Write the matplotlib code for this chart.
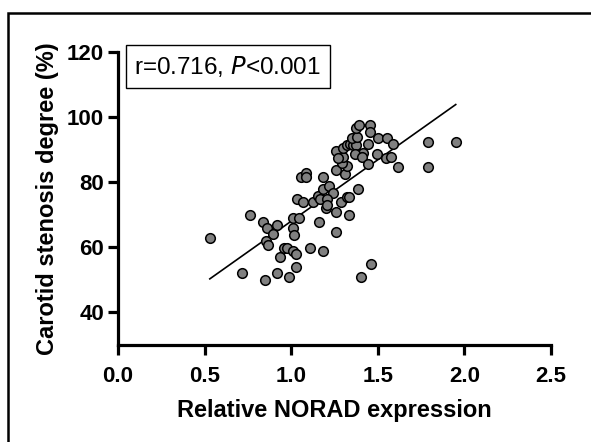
import numpy as np
import matplotlib
matplotlib.use("Agg")
import matplotlib.pyplot as plt
from matplotlib.patches import Rectangle

plt.rcParams["font.family"] = ["Liberation Sans", "DejaVu Sans"]

# NORAD expression vs. stenosis degree
norad = [0.53, 0.76, 0.835, 0.858, 0.916, 0.897, 0.855, 0.868, 0.714, 0.847,
         0.916, 0.985, 0.935, 0.958, 0.974, 1.009, 1.028, 1.028, 1.009, 1.047,
         1.009, 1.018, 1.035, 1.070, 1.055, 1.085, 1.085, 1.182, 1.109, 1.182,
         1.159, 1.259, 1.128, 1.157, 1.182, 1.220, 1.240, 1.166, 1.205, 1.201,
         1.208, 1.259, 1.286, 1.320, 1.335, 1.335, 1.384, 1.259, 1.311, 1.320,
         1.291, 1.297, 1.259, 1.301, 1.320, 1.340, 1.359, 1.372, 1.349, 1.378,
         1.372, 1.393, 1.455, 1.455, 1.445, 1.416, 1.368, 1.411, 1.445, 1.503,
         1.551, 1.586, 1.494, 1.546, 1.576, 1.615, 1.401, 1.463, 1.27, 1.79,
         1.95, 1.79]
stenosis = [63, 69.8, 67.9, 65.9, 66.8, 64, 62, 60.8, 52, 50,
            52, 51, 57.1, 59.9, 59.9, 58.9, 57.9, 54, 68.9, 68.9,
            65.9, 63.8, 74.9, 73.9, 81.7, 82.8, 81.5, 81.7, 59.9, 58.9,
            67.9, 64.8, 73.9, 75.7, 77.8, 78.8, 76.7, 74.7, 74.7, 72,
            73, 70.9, 74, 75.4, 75.6, 69.8, 77.8, 83.8, 82.7, 84.9,
            85.9, 87.9, 89.7, 90.7, 91.5, 91.7, 91.5, 91.5, 93.7, 94,
            96.6, 97.6, 97.6, 95.6, 91.7, 88.9, 88.6, 87.9, 85.6, 93.7,
            93.7, 91.7, 88.6, 87.6, 87.9, 84.7, 51, 54.9, 87.5, 92.5,
            92.5, 84.6]
x_ticks = [0.0, 0.5, 1.0, 1.5, 2.0, 2.5]
y_ticks = [40, 60, 80, 100, 120]

x = np.array(norad)
y = np.array(stenosis)

fig = plt.figure(figsize=(5.91, 4.42), dpi=100)
ax = fig.add_axes([0.1997, 0.220, 0.7326, 0.6617])

# outer frame (only left/top edges visible in the reference)
fig.patches.append(Rectangle((7.5 / 591, -0.1), 1.2, 1 - 12.5 / 442 + 0.1,
                             transform=fig.transFigure, fill=False,
                             edgecolor="black", linewidth=1.8))

ax.scatter(x, y, s=48, facecolor="#808080", edgecolor="black",
           linewidth=1.1, zorder=3, clip_on=False)

slope, intercept = np.polyfit(x, y, 1)
xs = np.array([x.min(), x.max()])
ax.plot(xs, intercept + slope * xs, color="black", lw=1.2, zorder=2)

ax.set_xlim(0, 2.5)
ax.set_ylim(30, 120)
ax.set_xticks(x_ticks)
ax.set_xticklabels([f"{t:.1f}" for t in x_ticks])
ax.set_yticks(y_ticks)

for side in ("top", "right"):
    ax.spines[side].set_visible(False)
for side in ("left", "bottom"):
    ax.spines[side].set_linewidth(2.3)
    ax.spines[side].set_capstyle("projecting")
ax.tick_params(width=2.3, length=7, labelsize=16)
ax.tick_params(axis="x", pad=8)
ax.tick_params(axis="y", pad=3)
for lab in ax.get_xticklabels() + ax.get_yticklabels():
    lab.set_fontweight("bold")

ax.set_xlabel("Relative NORAD expression", fontsize=17, fontweight="bold",
              labelpad=9)
ax.set_ylabel("Carotid stenosis degree (%)", fontsize=17, fontweight="bold",
              labelpad=6)

ax.text(0.038, 0.995, "r=0.716, $\\mathit{P}$<0.001", transform=ax.transAxes,
        fontsize=17.5, ha="left", va="top",
        bbox=dict(boxstyle="square,pad=0.36", facecolor="white",
                  edgecolor="black", linewidth=1.0))

fig.savefig("out.png", dpi=100)
